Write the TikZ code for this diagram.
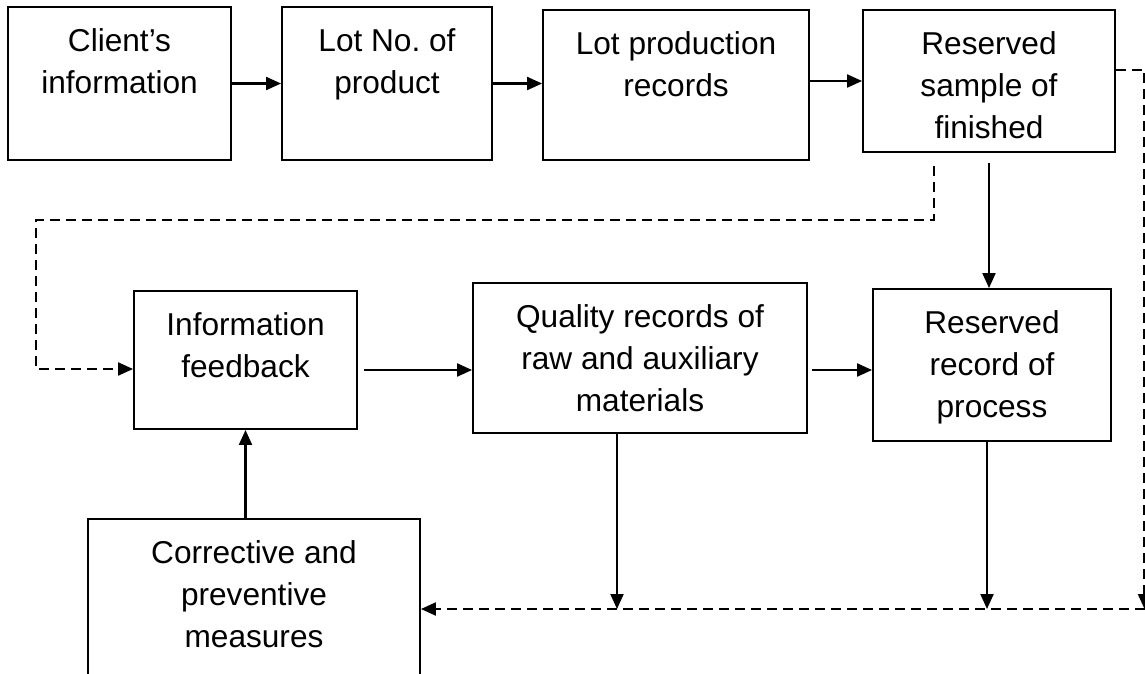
\documentclass[tikz,border=0pt]{standalone}
\usepackage{fontspec}
\setmainfont{Liberation Sans}
\usetikzlibrary{arrows.meta}

\begin{document}
\begin{tikzpicture}[x=0.02cm,y=-0.02cm,
  box/.style={draw,line width=1.1pt,inner sep=0pt},
  txt/.style={anchor=north,align=center,inner sep=0pt,yshift=-0.44cm,font=\fontsize{18}{24}\selectfont},
  arr/.style={line width=1.2pt,-{Triangle[length=0.3cm,width=0.26cm]}},
  dasharr/.style={arr,dash pattern=on 0.2cm off 0.12cm}]
\clip (0,0) rectangle (1145,673);
\node[box,minimum width=4.46cm,minimum height=3.06cm] (client) at (119.5,83.5) {};
\node[txt] (client-t) at (client.north) {Client’s\\information};
\node[box,minimum width=4.2cm,minimum height=3.06cm] (lotno) at (387,83.5) {};
\node[txt] (lotno-t) at (lotno.north) {Lot No.\ of\\product};
\node[box,minimum width=5.32cm,minimum height=3cm] (lotprod) at (676,85) {};
\node[txt] (lotprod-t) at (lotprod.north) {Lot production\\records};
\node[box,minimum width=5.04cm,minimum height=2.84cm] (sample) at (989,81) {};
\node[txt] (sample-t) at (sample.north) {Reserved\\sample of\\finished};
\node[box,minimum width=4.46cm,minimum height=2.76cm] (feedback) at (245.5,360) {};
\node[txt] (feedback-t) at (feedback.north) {Information\\feedback};
\node[box,minimum width=6.68cm,minimum height=3cm] (quality) at (640,358) {};
\node[txt] (quality-t) at (quality.north) {Quality records of\\raw and auxiliary\\materials};
\node[box,minimum width=4.76cm,minimum height=3.04cm] (process) at (992,365) {};
\node[txt] (process-t) at (process.north) {Reserved\\record of\\process};
\node[box,minimum width=6.64cm,minimum height=4cm] (measures) at (254,619) {};
\node[txt] (measures-t) at (measures.north) {Corrective and\\preventive\\measures};
\coordinate (ne) at (1144.5,70);
\coordinate (se) at (1144.5,609);
\coordinate (fbstart) at (934,166);
\coordinate (fbleft) at (36,220);
\draw[arr] (client.east) -- (lotno.west);
\draw[arr] (lotno.east) -- (lotno.east -| lotprod.west);
\draw[arr] (lotprod.east |- sample.west) -- (sample.west);
\draw[dasharr] (sample.east |- ne) -- (ne) -- (se);
\draw[arr] ([yshift=-0.2cm]sample.south) coordinate (s1) -- (s1 |- process.north);
\draw[dasharr] (fbstart) |- (fbleft) |- ([yshift=-0.18cm]feedback.west);
\draw[arr] ([xshift=0.12cm,yshift=-0.2cm]feedback.east) coordinate (f1) -- (f1 -| quality.west);
\draw[arr] ([xshift=0.08cm,yshift=-0.24cm]quality.east) coordinate (q1) -- (q1 -| process.west);
\draw[arr] ([xshift=-0.46cm]quality.south) coordinate (q2) -- (q2 |- se);
\draw[arr] ([xshift=-0.1cm]process.south) coordinate (p1) -- (p1 |- se);
\draw[dasharr] (se) -- (se -| measures.east);
\draw[arr] (feedback.south |- measures.north) -- (feedback.south);
\end{tikzpicture}
\end{document}
